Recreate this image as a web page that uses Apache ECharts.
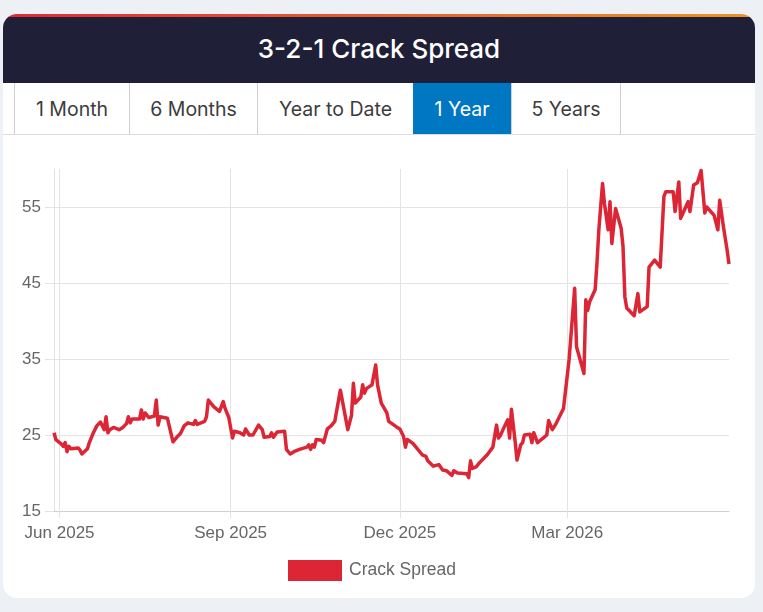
<!DOCTYPE html>
<html>
<head>
<meta charset="utf-8">
<script src="https://cdn.jsdelivr.net/npm/echarts@6/dist/echarts.min.js"></script>
<style>
  html, body { margin:0; padding:0; width:763px; height:612px; background:#edf1f5; overflow:hidden; }
  #card { position:absolute; left:3px; top:14px; width:752px; height:584px; background:#fff; border-radius:14px; overflow:hidden; }
  #bar { position:absolute; left:0; top:0; width:100%; height:3px; background:linear-gradient(90deg,#dc2a36,#e9952a); }
  #head { position:absolute; left:0; top:3px; width:100%; height:66px; background:#1f1f38; color:#fff;
          font-family:Inter, Roboto, sans-serif; font-weight:500; font-size:26px; line-height:64px; text-align:center; }
  #tabs { position:absolute; left:0; top:69px; width:100%; height:51px; border-bottom:1px solid #dcdcdc; }
  .tab { position:absolute; top:0; height:51px; line-height:53px; text-align:center; box-sizing:border-box;
         border:1px solid #d0d0d0; border-top:none; border-bottom:none; background:#fff; color:#3c3c3c;
         font-family:Inter, Roboto, sans-serif; font-size:19.5px; }
  .tab.active { background:#0077c2; color:#fff; border-color:#0077c2; }
  #chart { position:absolute; left:0; top:0; width:763px; height:612px; z-index:5; pointer-events:none; }
</style>
</head>
<body>
<div id="card">
  <div id="bar"></div>
  <div id="head">3-2-1 Crack Spread</div>
  <div id="tabs">
    <div class="tab" style="left:11px;width:116px;">1 Month</div>
    <div class="tab" style="left:126px;width:129px;">6 Months</div>
    <div class="tab" style="left:254px;width:157px;">Year to Date</div>
    <div class="tab active" style="left:410px;width:98px;">1 Year</div>
    <div class="tab" style="left:508px;width:110px;">5 Years</div>
  </div>
</div>
<div id="chart"></div>
<script>
const seriesName = 'Crack Spread';
const dates = [
 '2025-05-29','2025-05-30','2025-06-02','2025-06-03','2025-06-04','2025-06-05','2025-06-06','2025-06-07',
 '2025-06-11','2025-06-12','2025-06-13','2025-06-16','2025-06-17','2025-06-19','2025-06-21','2025-06-23',
 '2025-06-25','2025-06-26','2025-06-27','2025-06-28','2025-06-30','2025-07-03','2025-07-05','2025-07-07',
 '2025-07-08','2025-07-09','2025-07-10','2025-07-14','2025-07-15','2025-07-16','2025-07-17','2025-07-19',
 '2025-07-22','2025-07-23','2025-07-24','2025-07-25','2025-07-29','2025-07-30','2025-08-01','2025-08-03',
 '2025-08-05','2025-08-07','2025-08-09','2025-08-12','2025-08-13','2025-08-14','2025-08-18','2025-08-19',
 '2025-08-20','2025-08-23','2025-08-26','2025-08-28','2025-08-29','2025-08-31','2025-09-02','2025-09-03',
 '2025-09-06','2025-09-08','2025-09-09','2025-09-11','2025-09-13','2025-09-16','2025-09-18','2025-09-19',
 '2025-09-22','2025-09-23','2025-09-24','2025-09-26','2025-09-30','2025-10-01','2025-10-03','2025-10-05',
 '2025-10-08','2025-10-09','2025-10-12','2025-10-13','2025-10-14','2025-10-15','2025-10-16','2025-10-17',
 '2025-10-20','2025-10-21','2025-10-23','2025-10-25','2025-10-27','2025-10-30','2025-11-03','2025-11-05',
 '2025-11-06','2025-11-07','2025-11-10','2025-11-11','2025-11-12','2025-11-13','2025-11-16','2025-11-18',
 '2025-11-19','2025-11-21','2025-11-24','2025-11-25','2025-11-29','2025-12-01','2025-12-03','2025-12-04',
 '2025-12-05','2025-12-08','2025-12-10','2025-12-13','2025-12-15','2025-12-16','2025-12-19','2025-12-22',
 '2025-12-24','2025-12-26','2025-12-29','2025-12-30','2026-01-01','2026-01-06','2026-01-07','2026-01-08',
 '2026-01-09','2026-01-11','2026-01-13','2026-01-14','2026-01-17','2026-01-20','2026-01-22','2026-01-23',
 '2026-01-24','2026-01-26','2026-01-28','2026-01-29','2026-01-30','2026-02-01','2026-02-02','2026-02-04',
 '2026-02-05','2026-02-06','2026-02-09','2026-02-10','2026-02-11','2026-02-13','2026-02-16','2026-02-18',
 '2026-02-19','2026-02-21','2026-02-23','2026-02-25','2026-02-27','2026-03-02','2026-03-05','2026-03-06',
 '2026-03-10','2026-03-11','2026-03-12','2026-03-13','2026-03-16','2026-03-17','2026-03-18','2026-03-20',
 '2026-03-21','2026-03-23','2026-03-24','2026-03-25','2026-03-27','2026-03-30','2026-03-31','2026-04-01',
 '2026-04-02','2026-04-06','2026-04-08','2026-04-09','2026-04-10','2026-04-13','2026-04-14','2026-04-17',
 '2026-04-20','2026-04-22','2026-04-23','2026-04-27','2026-04-28','2026-04-30','2026-05-01','2026-05-03',
 '2026-05-05','2026-05-06','2026-05-08','2026-05-10','2026-05-12','2026-05-14','2026-05-15','2026-05-19',
 '2026-05-21','2026-05-22','2026-05-24','2026-05-26','2026-05-27'
];
const values = [
 25.3,24.4,23.8,23.5,24.0,22.8,23.5,23.2,
 23.3,23.0,22.5,23.2,24.0,25.2,26.2,26.7,
 25.7,27.4,25.3,25.7,26.0,25.7,26.0,26.5,
 27.4,26.6,27.1,27.1,28.3,27.1,27.9,27.3,
 27.5,29.6,26.3,27.4,27.2,27.2,24.1,24.7,
 25.2,26.2,26.6,26.4,26.9,26.4,26.8,27.4,
 29.6,28.7,28.1,29.4,28.5,27.3,24.6,25.5,
 25.3,25.0,25.8,25.0,25.0,26.3,25.7,24.7,
 24.8,25.3,24.7,25.4,25.5,23.1,22.5,22.8,
 23.1,22.9,23.4,23.7,23.1,23.7,23.4,24.4,
 24.3,24.0,25.8,26.2,26.8,30.9,25.7,27.6,
 31.8,29.2,30.0,31.6,30.5,31.1,31.6,34.2,
 31.6,29.2,27.9,26.8,26.1,25.8,24.8,23.4,
 24.4,23.9,23.3,22.4,22.2,21.6,20.9,21.1,
 20.4,20.3,19.7,20.3,20.0,19.9,19.4,21.6,
 20.6,20.8,21.4,21.4,22.4,23.4,26.3,24.6,
 24.9,26.0,27.0,24.6,28.4,24.1,21.7,23.7,
 24.0,25.0,25.1,24.0,25.3,24.0,24.6,25.0,
 26.9,25.7,26.5,27.5,28.5,34.9,44.3,36.6,
 33.1,42.8,41.4,42.5,44.1,47.6,52.0,58.1,
 55.5,52.0,55.7,50.2,54.8,52.2,49.8,43.2,
 41.7,40.7,43.6,41.2,41.0,41.9,47.1,48.0,
 47.1,56.4,57.0,57.0,54.4,58.3,53.5,54.6,
 55.7,54.4,57.9,58.2,59.8,54.2,55.0,53.9,
 52.0,55.9,52.4,49.3,47.5
];
const xTickDates = ['2025-06-01','2025-09-01','2025-12-01','2026-03-01'];
const xTickLabels = ['Jun 2025','Sep 2025','Dec 2025','Mar 2026'];
const yTicks = [15,25,35,45,55];

function ts(s){ const p = s.split('-').map(Number); return Date.UTC(p[0], p[1]-1, p[2]); }
const xTickTs = xTickDates.map(ts);
const data = dates.map((d,i)=>[ts(d), values[i]]);

const chart = echarts.init(document.getElementById('chart'), null, {renderer:'canvas'});
const font = 'Liberation Sans, Arial, sans-serif';
chart.setOption({
  animation:false,
  backgroundColor:'transparent',
  grid:{ left:54, right:34, top:169, bottom:101, outerBoundsMode:'none' },
  legend:{
    left:288, top:560, padding:0, icon:'rect', itemWidth:54, itemHeight:21, itemGap:10,
    textStyle:{ color:'#666', fontSize:17.5, fontFamily:font, padding:[0,0,0,2] },
    data:[seriesName]
  },
  xAxis:{
    type:'value', min:ts(dates[0]), max:ts(dates[dates.length-1]),
    axisLine:{ show:true, lineStyle:{ color:'#cfcfcf', width:1 } },
    axisTick:{ show:true, length:7, customValues:xTickTs, lineStyle:{ color:'#e3e3e3' } },
    axisLabel:{ customValues:xTickTs, margin:14, color:'#666', fontSize:17, fontFamily:font,
      formatter:(v)=>{ const i = xTickTs.indexOf(v); return i>=0 ? xTickLabels[i] : ''; } },
    splitLine:{ show:true, lineStyle:{ color:'#e3e3e3', width:1 } }
  },
  yAxis:{
    type:'value', min:15, max:60,
    axisLine:{ show:true, lineStyle:{ color:'#e3e3e3', width:1 } },
    axisTick:{ show:true, length:9, customValues:yTicks, lineStyle:{ color:'#e3e3e3' } },
    axisLabel:{ customValues:yTicks, margin:13, color:'#666', fontSize:17, fontFamily:font },
    splitLine:{ show:true, lineStyle:{ color:'#e3e3e3', width:1 } }
  },
  series:[{
    name:seriesName, type:'line', data:data, showSymbol:false, smooth:false,
    lineStyle:{ color:'#dc2535', width:3.5, join:'round' }, itemStyle:{ color:'#dc2535' }
  }]
});
</script>
</body>
</html>
